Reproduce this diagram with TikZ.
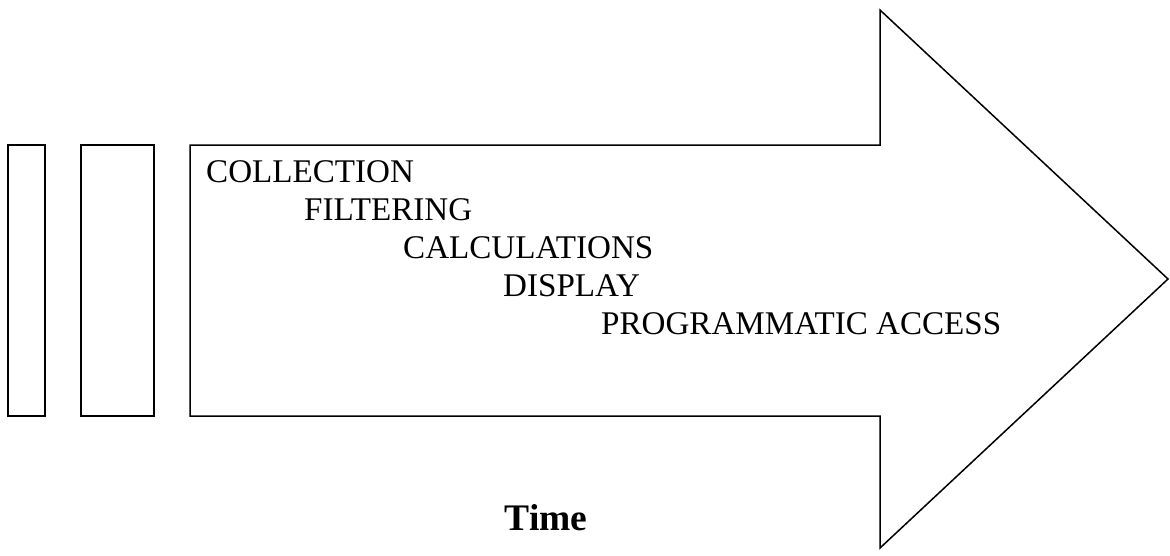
\documentclass[tikz,border=0pt]{standalone}
\usepackage{fontspec}
\setmainfont{Liberation Serif}
\begin{document}
\begin{tikzpicture}[x=1pt,y=-1pt,
  outline/.style={draw=black,line width=1.5pt,line join=miter},
  item/.style={anchor=base west,inner sep=0pt,font=\fontsize{33.1}{38}\selectfont}]
\useasboundingbox (0,0) rectangle (1170,555);
\draw[outline] (8,145) rectangle (45,416);
\draw[outline] (81,145) rectangle (154,416);
\draw[outline] (190,145) -- (880,145) -- (880,10) -- (1168,279) -- (880,548) -- (880,416) -- (190,416) -- cycle;
\node[item] (c1) at (206,182) {COLLECTION};
\node[item] (c2) at (304,220) {FILTERING};
\node[item] (c3) at (403,258) {CALCULATIONS};
\node[item] (c4) at (503,296) {DISPLAY};
\node[item] (c5) at (601,334) {PROGRAMMATIC ACCESS};
\node[anchor=base,inner sep=0pt,font=\fontsize{37.5}{40}\selectfont\bfseries] (t) at (546,530) {Time};
\end{tikzpicture}
\end{document}
